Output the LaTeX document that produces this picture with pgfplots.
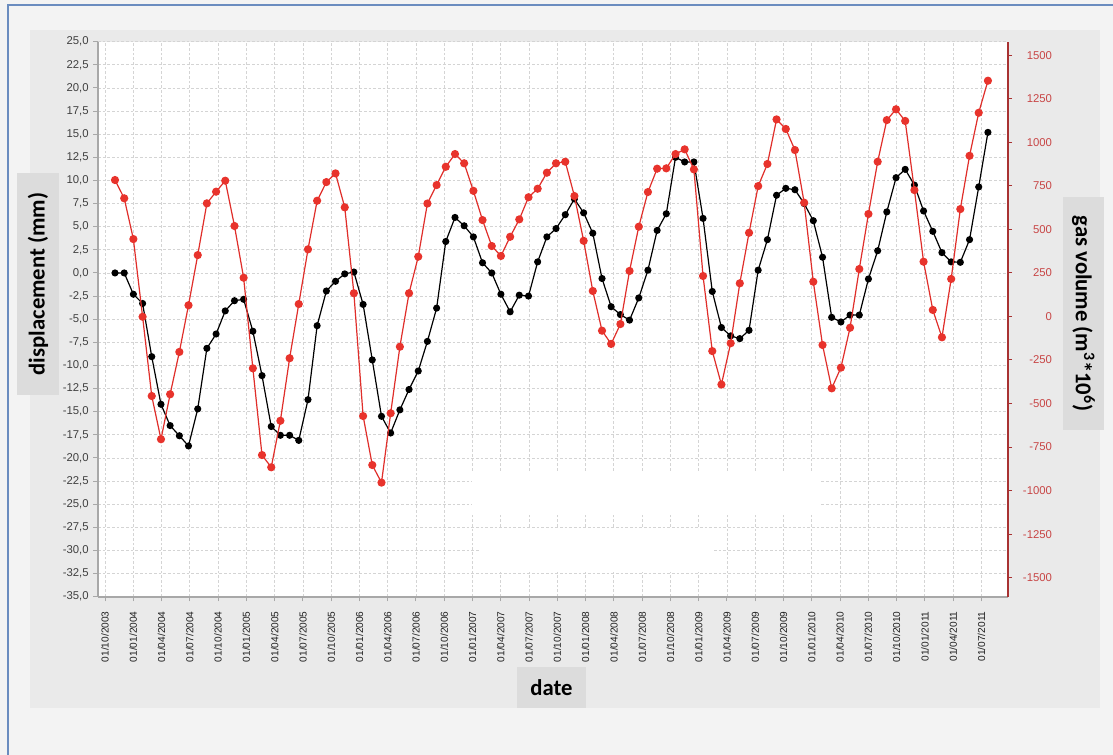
\documentclass[border=0pt]{standalone}
\usepackage{fontspec}
\setmainfont{Liberation Sans}
\newfontfamily\labfont{Carlito}
\usepackage{pgfplots}
\pgfplotsset{compat=1.18}
\usepackage{pgfplotstable}
\definecolor{bgouter}{HTML}{F3F3F3}
\definecolor{panel}{HTML}{EAEAEA}
\definecolor{labelbox}{HTML}{DCDCDC}
\definecolor{borderblue}{HTML}{6A8CBF}
\definecolor{axisgray}{HTML}{A8A8A8}
\definecolor{gridgray}{HTML}{D4D4D4}
\definecolor{redline}{HTML}{E02E2A}
\definecolor{redmark}{HTML}{E8332C}
\definecolor{axisred}{HTML}{A83232}
\definecolor{labelred}{HTML}{C84646}

\pgfplotstableread{
x disp gas
1.06 0.0 783
2.04 0.0 678
3.01 -2.3 444
3.99 -3.3 -2
4.96 -9.05 -457
5.94 -14.2 -705
6.91 -16.5 -447
7.89 -17.6 -204
8.86 -18.7 64
9.84 -14.7 352
10.81 -8.15 649
11.79 -6.6 716
12.76 -4.1 779
13.74 -3.0 519
14.71 -2.85 222
15.69 -6.3 -298
16.66 -11.1 -796
17.64 -16.6 -866
18.61 -17.55 -599
19.59 -17.55 -240
20.56 -18.1 71
21.54 -13.7 385
22.51 -5.7 664
23.49 -1.95 771
24.46 -0.9 821
25.44 -0.1 626
26.41 0.1 133
27.39 -3.4 -572
28.36 -9.4 -853
29.34 -15.5 -954
30.31 -17.3 -556
31.29 -14.8 -174
32.26 -12.6 133
33.24 -10.6 343
34.21 -7.4 648
35.19 -3.8 754
36.16 3.4 859
37.14 6.0 932
38.11 5.1 879
39.09 3.9 721
40.06 1.1 553
41.04 0.0 404
42.01 -2.3 347
42.99 -4.2 457
43.96 -2.4 557
44.94 -2.5 684
45.91 1.2 733
46.89 3.9 825
47.86 4.8 879
48.84 6.3 888
49.81 8.0 691
50.79 6.5 434
51.76 4.3 146
52.74 -0.6 -82
53.71 -3.65 -158
54.69 -4.5 -44
55.66 -5.1 261
56.64 -2.7 515
57.61 0.3 714
58.59 4.6 848
59.56 6.4 850
60.54 12.5 932
61.51 12.0 959
62.49 12.0 844
63.46 5.9 232
64.44 -2.0 -199
65.41 -5.9 -391
66.39 -6.8 -154
67.36 -7.1 190
68.34 -6.2 480
69.31 0.3 748
70.29 3.6 875
71.26 8.4 1131
72.24 9.15 1076
73.21 9.0 955
74.19 7.5 653
75.16 5.65 199
76.14 1.7 -164
77.11 -4.8 -413
78.09 -5.3 -294
79.06 -4.55 -65
80.04 -4.55 272
81.01 -0.65 588
81.99 2.4 888
82.96 6.6 1127
83.94 10.3 1189
84.91 11.2 1122
85.89 9.5 725
86.86 6.7 314
87.84 4.5 37
88.81 2.2 -120
89.79 1.2 215
90.76 1.15 616
91.74 3.6 922
92.71 9.3 1169
93.69 15.2 1353
}\datatable

\begin{document}
\begin{tikzpicture}
\fill[bgouter] (0pt,0pt) rectangle (834.75pt,-566.25pt);
\useasboundingbox (0pt,0pt) rectangle (834.75pt,-566.25pt);
\fill[panel] (22.5pt,-22.5pt) rectangle (825pt,-531pt);
\draw[borderblue, line width=0.9pt] (6pt,-566.25pt) -- (6pt,-3.75pt) -- (834.75pt,-3.75pt);

\begin{axis}[
  at={(73.5pt,-447.525pt)}, anchor=south west,
  scale only axis, width=682.5pt, height=416.25pt,
  xmin=-0.743, xmax=95.82, ymin=-35, ymax=25,
  axis x line*=bottom, axis y line*=left,
  axis line style={draw=axisgray, line width=1.5pt, -},
  axis background/.style={fill=white},
  xtick={0,3,...,93},
  xticklabels={01/10/2003,01/01/2004,01/04/2004,01/07/2004,01/10/2004,01/01/2005,01/04/2005,01/07/2005,01/10/2005,01/01/2006,01/04/2006,01/07/2006,01/10/2006,01/01/2007,01/04/2007,01/07/2007,01/10/2007,01/01/2008,01/04/2008,01/07/2008,01/10/2008,01/01/2009,01/04/2009,01/07/2009,01/10/2009,01/01/2010,01/04/2010,01/07/2010,01/10/2010,01/01/2011,01/04/2011,01/07/2011},
  ytick={-35,-32.5,-30,-27.5,-25,-22.5,-20,-17.5,-15,-12.5,-10,-7.5,-5,-2.5,0,2.5,5,7.5,10,12.5,15,17.5,20,22.5,25},
  tick align=outside, major tick length=3.5pt,
  tick style={draw=axisgray, line width=0.75pt},
  grid=major,
  major grid style={draw=gridgray, line width=0.6pt, dash pattern=on 2pt off 1.5pt},
  xticklabel style={rotate=90, anchor=east, xshift=-4pt, font=\fontsize{7.6}{9}\selectfont, text=black!88},
  yticklabel style={font=\fontsize{8.5}{10}\selectfont, text=black!75},
  /pgf/number format/fixed, /pgf/number format/fixed zerofill,
  /pgf/number format/precision=1, /pgf/number format/use comma,
  /pgf/number format/assume math mode=true,
  scaled y ticks=false,
]
\addplot[black, line width=0.9pt, mark=*, mark size=2.2pt, mark options={solid, fill=black}] table[x=x, y=disp] {\datatable};
\end{axis}

\begin{axis}[
  at={(73.5pt,-447.525pt)}, anchor=south west,
  scale only axis, width=682.5pt, height=416.25pt,
  xmin=-0.743, xmax=95.82, ymin=-1609, ymax=1577,
  hide x axis,
  axis y line*=right,
  y axis line style={draw=axisred, line width=1.5pt, -},
  ytick={-1500,-1250,-1000,-750,-500,-250,0,250,500,750,1000,1250,1500},
  tick align=outside, major tick length=3pt,
  ytick style={draw=axisred, line width=0.75pt},
  yticklabel style={font=\fontsize{8.5}{10}\selectfont, text=labelred, anchor=east, xshift=33.5pt},
  /pgf/number format/1000 sep={},
  /pgf/number format/assume math mode=true,
  scaled y ticks=false,
]
\addplot[redline, line width=0.9pt, mark=*, mark size=2.6pt, mark options={solid, fill=redmark, draw=redmark}] table[x=x, y=gas] {\datatable};
\end{axis}

\fill[white] (354pt,-354pt) rectangle (615pt,-386.25pt);
\fill[white] (360pt,-396pt) rectangle (534pt,-429pt);

\node[fill=labelbox, rotate=90, minimum width=166.5pt, minimum height=31.5pt, inner sep=0pt, font=\labfont\bfseries\fontsize{17}{20}\selectfont] at (28.5pt,-213pt) {displacement (mm)};
\node[fill=labelbox, rotate=-90, minimum width=174.75pt, minimum height=30.75pt, inner sep=0pt, font=\labfont\bfseries\fontsize{17}{20}\selectfont] at (812.6pt,-235.1pt) {gas volume (m\textsuperscript{3}*10\textsuperscript{6})};
\node[fill=labelbox, minimum width=51.75pt, minimum height=30.75pt, inner sep=0pt, font=\labfont\bfseries\fontsize{17}{20}\selectfont] at (413.6pt,-515.6pt) {date};
\end{tikzpicture}
\end{document}
